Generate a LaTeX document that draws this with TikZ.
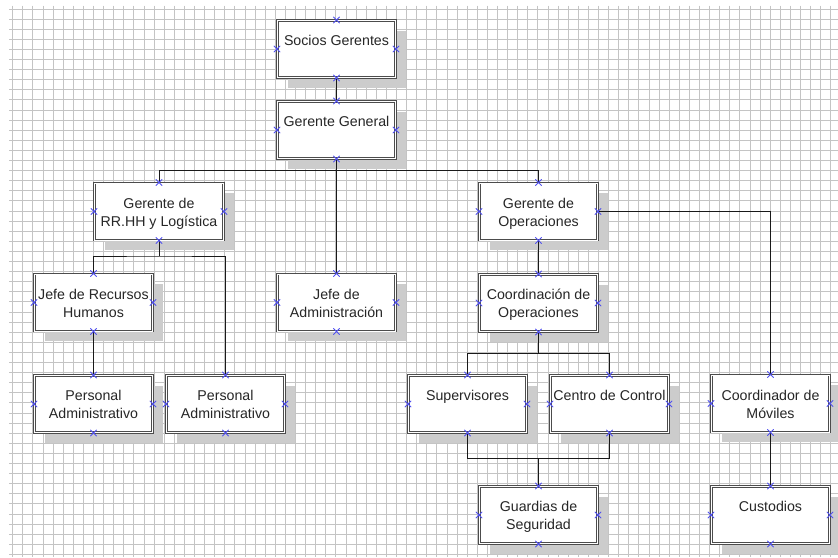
\documentclass[tikz,border=0pt]{standalone}
\usepackage{fontspec}
\setmainfont{Liberation Sans}
\usetikzlibrary{shadows,shapes.misc}
\definecolor{azulmarca}{RGB}{80,80,240}

\tikzset{
  cuadro/.style={draw=black!70, double=white, double distance=0.8pt, line width=0.95pt,
    fill=white, minimum width=118pt, minimum height=57pt, inner sep=0pt,
    drop shadow={shadow xshift=10pt, shadow yshift=-10pt, fill=black!20, opacity=1},
    label={[texto]north:#1}},
  texto/.style={anchor=north, yshift=-15pt, inner sep=0pt, align=center, text=black!85,
    font=\fontsize{14.2}{18}\selectfont},
  enlace/.style={draw=black!90, line width=0.9pt},
  marca/.style={cross out, draw=azulmarca, line width=0.8pt, minimum size=5.5pt, inner sep=0pt},
  rejilla/.style={draw=black!23, line width=1pt}
}

\begin{document}
\begin{tikzpicture}[x=1pt,y=-1pt]
\path[use as bounding box, clip] (0,0) rectangle (838,557);
\fill[white] (0,0) rectangle (838,557);

% rejilla de fondo
\foreach \i in {0,...,81}
  \draw[rejilla] ({12.7+10.1*\i},5.5) -- ({12.7+10.1*\i},557);
\foreach \j in {0,...,54}
  \draw[rejilla] (9,{9+10.1*\j}) -- (838,{9+10.1*\j});

% cuadros
\node[cuadro={Socios Gerentes}] (socios) at (336.5,49) {};
\node[cuadro={Gerente General}] (general) at (336.5,130) {};
\node[cuadro={Gerente de\\RR.HH y Logística}, minimum width=129pt] (rrhh) at (159,211.5) {};
\node[cuadro={Jefe de Recursos\\Humanos}] (jeferh) at (93.5,302.5) {};
\node[cuadro={Jefe de\\Administración}] (admin) at (336.5,302.5) {};
\node[cuadro={Gerente de\\Operaciones}] (operaciones) at (538.5,211.5) {};
\node[cuadro={Coordinación de\\Operaciones}] (coordop) at (538.5,303) {};
\node[cuadro={Personal\\Administrativo}] (persona) at (93.5,404) {};
\node[cuadro={Personal\\Administrativo}] (personb) at (225.5,404) {};
\node[cuadro={Supervisores}] (supervisores) at (467.5,404) {};
\node[cuadro={Centro de Control}] (control) at (609.5,404) {};
\node[cuadro={Guardias de\\Seguridad}] (guardias) at (538.5,515) {};
\node[cuadro={Coordinador de\\Móviles}] (moviles) at (770.5,403.5) {};
\node[cuadro={Custodios}] (custodios) at (770.5,515) {};

% enlaces
\coordinate (barra1) at (336.5,170.7);
\coordinate (barra2) at (159,256);
\coordinate (barra3) at (538.5,353.3);
\coordinate (barra4) at (538.5,458.7);

\draw[enlace] (socios.south) -- (general.north);
\draw[enlace] (general.south) -- (admin.north);
\draw[enlace] (rrhh.north) |- (barra1) -| (operaciones.north);
\draw[enlace] (rrhh.south) -- (barra2);
\draw[enlace] (jeferh.north) |- (barra2) -| (personb.north);
\draw[enlace] (jeferh.south) -- (persona.north);
\draw[enlace] (operaciones.south) -- (coordop.north);
\draw[enlace] (operaciones.east) -| (moviles.north);
\draw[enlace] (coordop.south) -- (barra3);
\draw[enlace] (supervisores.north) |- (barra3) -| (control.north);
\draw[enlace] (supervisores.south) |- (barra4) -| (control.south);
\draw[enlace] (barra4) -- (guardias.north);
\draw[enlace] (moviles.south) -- (custodios.north);

% marcas de conexion
\foreach \n in {socios,general,rrhh,jeferh,admin,operaciones,coordop,persona,personb,supervisores,control,guardias,moviles,custodios}
  \foreach \a in {north,south,east,west}
    \node[marca] (\n-\a) at (\n.\a) {};
\end{tikzpicture}
\end{document}
